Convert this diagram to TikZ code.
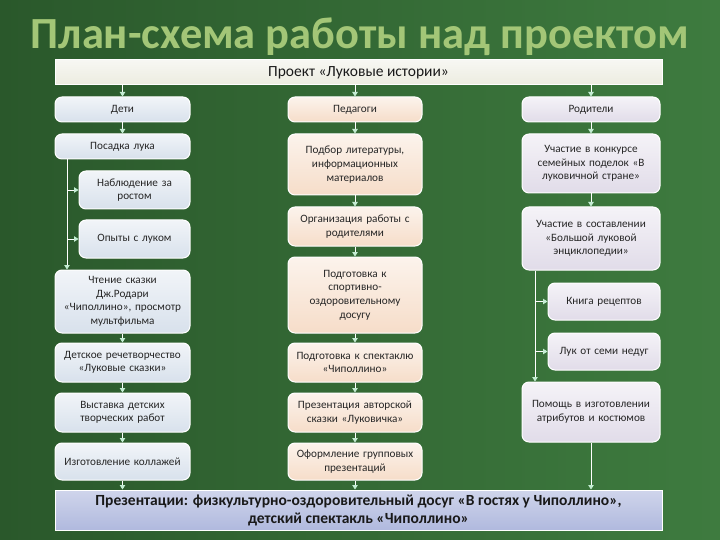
\documentclass[tikz,border=0pt]{standalone}
\usepackage{fontspec}
\setmainfont{Carlito}
\usetikzlibrary{arrows.meta, calc}
\definecolor{bgdark}{HTML}{2A582B}
\definecolor{bglight}{HTML}{3E7B3F}
\definecolor{titlegreen}{HTML}{A3C677}
\definecolor{kidsfill}{HTML}{D8E1EC}
\definecolor{teachfill}{HTML}{F6DDC9}
\definecolor{parentfill}{HTML}{E1DCE9}
\definecolor{headfill}{HTML}{ECECE0}
\definecolor{footfill}{HTML}{B0B9DE}
\definecolor{tipgreen}{HTML}{C4EDD3}
\tikzset{
  cell/.style={draw=white, line width=1pt, rounded corners=7pt, align=center,
    inner xsep=3pt, inner ysep=1pt, text=black!85,
    font=\fontsize{11.2}{13.6}\selectfont},
  kids/.style={cell, top color=kidsfill!35!white, bottom color=kidsfill},
  teach/.style={cell, top color=teachfill!35!white, bottom color=teachfill},
  parent/.style={cell, top color=parentfill!35!white, bottom color=parentfill},
  band/.style={draw=white, line width=1pt, align=center, inner sep=1pt, text=black!90},
  link/.style={draw=white, line width=0.8pt, -{Triangle[length=4.5pt,width=5.5pt,color=tipgreen]}}
}
\begin{document}
\begin{tikzpicture}[x=1pt, y=-1pt]
  \useasboundingbox (0,0) rectangle (720,540);
  \shade[left color=bgdark, right color=bglight] (0,0) rectangle (720,540);

  \node (title) at (360,37) [text=titlegreen, font=\fontsize{44.5}{48}\selectfont\bfseries] {План-схема работы над проектом};

  \node (proj) at (358.5,72.5) [band, top color=headfill!40!white, bottom color=headfill, minimum width=607pt, minimum height=25pt, font=\fontsize{15.5}{17}\selectfont] {Проект «Луковые истории»};

  \node (deti) at (122.5,109.5) [kids, text width=129pt, minimum height=25pt] {Дети};
  \node (posadka) at (122.5,146.5) [kids, text width=129pt, minimum height=25pt] {Посадка лука};
  \node (nabl) at (134.5,190) [kids, text width=105pt, minimum height=38pt] {Наблюдение за\\ростом};
  \node (opyty) at (134.5,239) [kids, text width=105pt, minimum height=38pt] {Опыты с луком};
  \node (chtenie) at (122.5,301.5) [kids, text width=129pt, minimum height=63pt] {Чтение сказки\\Дж.Родари\\«Чиполлино», просмотр\\мультфильма};
  \node (rech) at (122.5,362.5) [kids, text width=129pt, minimum height=39pt] {Детское речетворчество\\«Луковые сказки»};
  \node (vyst) at (122.5,412.5) [kids, text width=129pt, minimum height=39pt] {Выставка детских\\творческих работ};
  \node (koll) at (122.5,461.5) [kids, text width=129pt, minimum height=37pt] {Изготовление коллажей};

  \node (ped) at (355,109.5) [teach, text width=128pt, minimum height=25pt] {Педагоги};
  \node (podbor) at (355,164.5) [teach, text width=128pt, minimum height=61pt] {Подбор литературы,\\информационных\\материалов};
  \node (org) at (355,226.5) [teach, text width=128pt, minimum height=39pt] {Организация работы с\\родителями};
  \node (sport) at (355,295) [teach, text width=128pt, minimum height=76pt] {Подготовка к\\спортивно-\\оздоровительному\\досугу};
  \node (spekt) at (355,362.5) [teach, text width=128pt, minimum height=39pt] {Подготовка к спектаклю\\«Чиполлино»};
  \node (avtor) at (355,412.5) [teach, text width=128pt, minimum height=39pt] {Презентация авторской\\сказки «Луковичка»};
  \node (oform) at (355,461.5) [teach, text width=128pt, minimum height=37pt] {Оформление групповых\\презентаций};

  \node (rod) at (591,109.5) [parent, text width=132pt, minimum height=25pt] {Родители};
  \node (konk) at (591,163.5) [parent, text width=132pt, minimum height=59pt] {Участие в конкурсе\\семейных поделок «В\\луковичной стране»};
  \node (encikl) at (591,238.5) [parent, text width=132pt, minimum height=63pt] {Участие в составлении\\«Большой луковой\\энциклопедии»};
  \node (kniga) at (604,301.5) [parent, text width=106pt, minimum height=37pt] {Книга рецептов};
  \node (luk) at (604,351.5) [parent, text width=106pt, minimum height=37pt] {Лук от семи недуг};
  \node (pomosh) at (591,412) [parent, text width=132pt, minimum height=60pt] {Помощь в изготовлении\\атрибутов и костюмов};

  \node (final) at (358.5,510) [band, top color=footfill!60!white, bottom color=footfill, minimum width=607pt, minimum height=40pt, font=\fontsize{15.5}{18}\selectfont\bfseries] {Презентации: физкультурно-оздоровительный досуг «В гостях у Чиполлино»,\\детский спектакль «Чиполлино»};

  \coordinate (lbus) at (67,0);
  \coordinate (rbus) at (535,0);

  \draw[link] (proj.south -| deti) -- (deti);
  \draw[link] (proj.south -| ped) -- (ped);
  \draw[link] (proj.south -| rod) -- (rod);

  \draw[link] (deti) -- (posadka);
  \draw[link] (posadka.south -| lbus) -- (chtenie.north -| lbus);
  \draw[link] (nabl.west -| lbus) -- (nabl.west);
  \draw[link] (opyty.west -| lbus) -- (opyty.west);
  \draw[link] (chtenie) -- (rech);
  \draw[link] (rech) -- (vyst);
  \draw[link] (vyst) -- (koll);
  \draw[link] (koll) -- (final.north -| koll);

  \draw[link] (ped) -- (podbor);
  \draw[link] (podbor) -- (org);
  \draw[link] (org) -- (sport);
  \draw[link] (sport) -- (spekt);
  \draw[link] (spekt) -- (avtor);
  \draw[link] (avtor) -- (oform);
  \draw[link] (oform) -- (final.north -| oform);

  \draw[link] (rod) -- (konk);
  \draw[link] (konk) -- (encikl);
  \draw[link] (encikl.south -| rbus) -- (pomosh.north -| rbus);
  \draw[link] (kniga.west -| rbus) -- (kniga.west);
  \draw[link] (luk.west -| rbus) -- (luk.west);
  \draw[link] (pomosh) -- (final.north -| pomosh);
\end{tikzpicture}
\end{document}
